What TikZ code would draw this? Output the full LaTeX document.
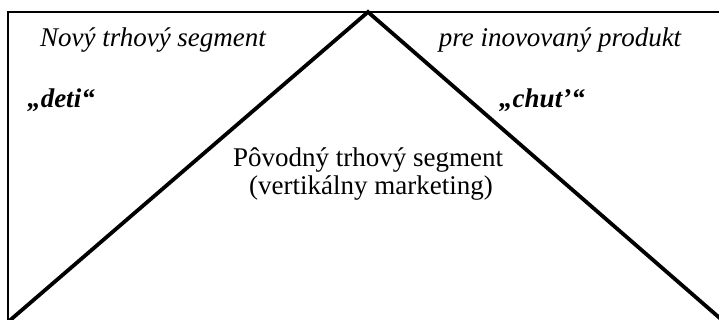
\documentclass[tikz,border=0pt]{standalone}
\usepackage{fontspec}
\setmainfont{Liberation Serif}
\usetikzlibrary{positioning}

\tikzset{
    frameline/.style={draw=black,line width=0.6pt},
    tentline/.style={draw=black,line width=1.9pt},
    label/.style={anchor=base,inner sep=0pt,font=\fontsize{13.5pt}{14pt}\selectfont},
    segname/.style={label,font=\fontsize{13.5pt}{14pt}\selectfont\itshape},
    quotename/.style={label,font=\fontsize{13.5pt}{14pt}\selectfont\bfseries\itshape}
}

\begin{document}
\begin{tikzpicture}[x=0.5pt,y=-0.5pt]
        \useasboundingbox (0,0) rectangle (719,320);
        % frame
        \draw[frameline] (8,322) -- (8,12) -- (722,12);
        % tent
        \coordinate (apex) at (368,12);
        \coordinate (footl) at (8,322);
        \coordinate (footr) at (722,320);
        \draw[tentline,line join=miter] (footl) -- (apex) -- (footr);
        % texts
        \node[segname] (newseg) at (153,47) {Nový trhový segment};
        \node[segname] (product) at (560,47) {pre inovovaný produkt};
        \node[quotename] (kids) at (61,108) {„deti“};
        \node[quotename] (taste) at (542,108) {„chut’“};
        \node[label] (origseg) at (368,167) {Pôvodný trhový segment};
        \node[label] (vertical) at (371,195) {(vertikálny marketing)};
\end{tikzpicture}
\end{document}
